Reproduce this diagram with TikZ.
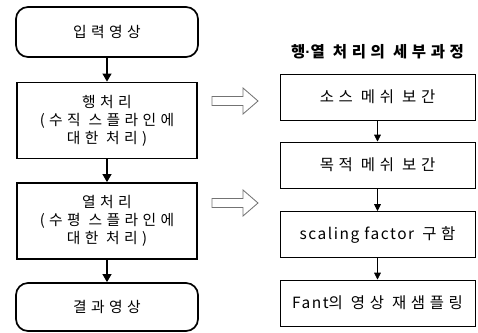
\documentclass[tikz,border=0pt]{standalone}
\usepackage{fontspec}
\setmainfont{Noto Sans CJK KR}[LetterSpace=30]
\newfontfamily\latinfont{Noto Sans CJK KR}[LetterSpace=10]
\newfontfamily\dotfont{Liberation Sans}
\usetikzlibrary{arrows.meta}

\begin{document}
\begin{tikzpicture}[every node/.style={font=\fontsize{10.5}{12.8}\selectfont, align=center},
    termbox/.style={draw, line width=1.2pt, rounded corners=0.3cm,
      minimum width=4.55cm, minimum height=1.25cm},
    procbox/.style={draw, line width=1.2pt, minimum width=4.5cm, minimum height=1.9cm},
    stepbox/.style={draw, line width=0.7pt, minimum width=4.875cm, minimum height=1.15cm,
      font=\fontsize{11}{13}\selectfont},
    mainarrow/.style={-{Triangle[length=0.2cm,width=0.22cm]}, line width=1pt},
    subarrow/.style={-{Triangle[length=0.17cm,width=0.17cm]}, line width=0.5pt},
    hollow/.style={draw=black!55, line width=0.6pt, line join=miter}]
    \useasboundingbox (0,0) rectangle (11.95,8.3);

    % 왼쪽: 전체 흐름
    \node[termbox] (input)  at (2.675, 7.5)    {입력영상};
    \node[procbox] (rowproc) at (2.675, 5.2875) {행처리\\(수직 스플라인에\\대한 처리)};
    \node[procbox] (colproc) at (2.675, 2.775)  {열처리\\(수평 스플라인에\\대한 처리)};
    \node[termbox, minimum height=1.2cm] (output) at (2.675, 0.625) {결과영상};

    \draw[mainarrow] (input) -- (rowproc);
    \draw[mainarrow] (rowproc) -- (colproc);
    \draw[mainarrow] (colproc) -- (output);

    % 속이 빈 화살표 (세부과정 쪽으로)
    \draw[hollow, shift={(5.3,5.775)}]
      (0,-0.1125) -- (0.775,-0.1125) -- (0.775,-0.325) -- (1.15,0)
      -- (0.775,0.325) -- (0.775,0.1125) -- (0,0.1125) -- cycle;
    \draw[hollow, shift={(5.3,3.225)}]
      (0,-0.1125) -- (0.775,-0.1125) -- (0.775,-0.325) -- (1.15,0)
      -- (0.775,0.325) -- (0.775,0.1125) -- (0,0.1125) -- cycle;

    % 오른쪽: 행·열 처리의 세부과정
    \node[font=\fontsize{11}{13}\selectfont\bfseries] (title) at (9.4375, 7.0)
      {행{\dotfont\bfseries ·}열 처리의 세부과정};
    \node[stepbox] (srcmesh) at (9.4375, 5.875)  {소스 메쉬 보간};
    \node[stepbox] (dstmesh) at (9.4375, 4.175)  {목적 메쉬 보간};
    \node[stepbox] (scaling) at (9.4375, 2.4375) {{\latinfont scaling factor} 구함};
    \node[stepbox] (resamp)  at (9.4375, 0.725)  {{\latinfont Fant}의 영상 재샘플링};

    \draw[subarrow] (srcmesh) -- (dstmesh);
    \draw[subarrow] (dstmesh) -- (scaling);
    \draw[subarrow] (scaling) -- (resamp);
  \end{tikzpicture}
\end{document}
